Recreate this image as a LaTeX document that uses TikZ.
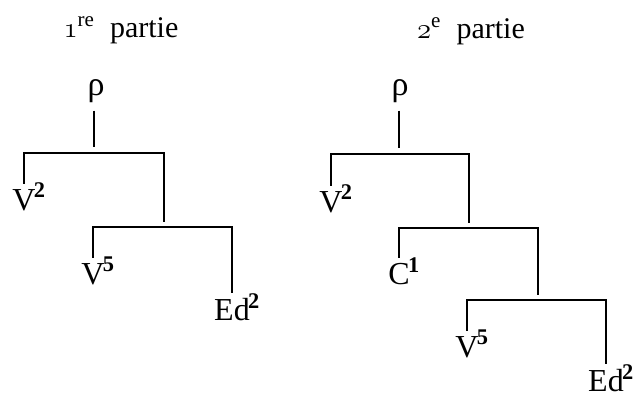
\documentclass[tikz,border=0pt]{standalone}
\usepackage{fontspec}
\setmainfont{Liberation Serif}
\usetikzlibrary{calc}
\newcommand{\osnum}[1]{{\usefont{OML}{cmm}{m}{it}#1}}
\newcommand{\expo}[1]{\rlap{\smash{\kern-0.8pt\textsuperscript{\bfseries #1}}}}

\begin{document}
\begin{tikzpicture}[x=0.5pt, y=-0.5pt,
  branch/.style={black, line width=0.65pt},
  leaf/.style={anchor=north, inner sep=0pt, font=\fontsize{16}{18}\selectfont},
  root/.style={anchor=base, inner sep=0pt, font=\fontsize{17}{19}\selectfont},
  title/.style={anchor=base, inner sep=0pt, font=\fontsize{15}{17}\selectfont}]

  \useasboundingbox (0,0) rectangle (634,398);

  % titles
  \node[title] (titleA) at (121,37) {\osnum{1}\textsuperscript{re}\ \ partie};
  \node[title] (titleB) at (471,38) {\osnum{2}\textsuperscript{e}\ \ partie};

  % roots
  \node[root] (rhoA) at (96,95)  {ρ};
  \node[root] (rhoB) at (400,95) {ρ};

  % junctions on the bars
  \coordinate (jA1) at (94,153);
  \coordinate (jA2) at (164,227);
  \coordinate (jB1) at (399,154);
  \coordinate (jB2) at (469,228);
  \coordinate (jB3) at (538,300);

  % leaves
  \node[leaf] (vA2) at (24,189)  {V\expo{2}};
  \node[leaf] (vA5) at (93,263)  {V\expo{5}};
  \node[leaf] (edA) at (232,298) {Ed\expo{2}};
  \node[leaf] (vB2) at (331,191) {V\expo{2}};
  \node[leaf] (cB)  at (399,263) {C\expo{1}};
  \node[leaf] (vB5) at (467,336) {V\expo{5}};
  \node[leaf] (edB) at (606,369) {Ed\expo{2}};

  % stems
  \draw[branch, shorten <=4pt, shorten >=3pt] (rhoA.south -| jA1) -- (jA1);
  \draw[branch, shorten <=4pt, shorten >=3pt] (rhoB.south -| jB1) -- (jB1);

  % bars and legs
  \foreach \a/\b in {jA1/vA2, jA1/jA2, jA2/vA5, jA2/edA,
                     jB1/vB2, jB1/jB2, jB2/cB, jB2/jB3, jB3/vB5, jB3/edB} {
    \draw[branch, shorten >=2.5pt] (\a) -| (\b);
  }

\end{tikzpicture}
\end{document}
